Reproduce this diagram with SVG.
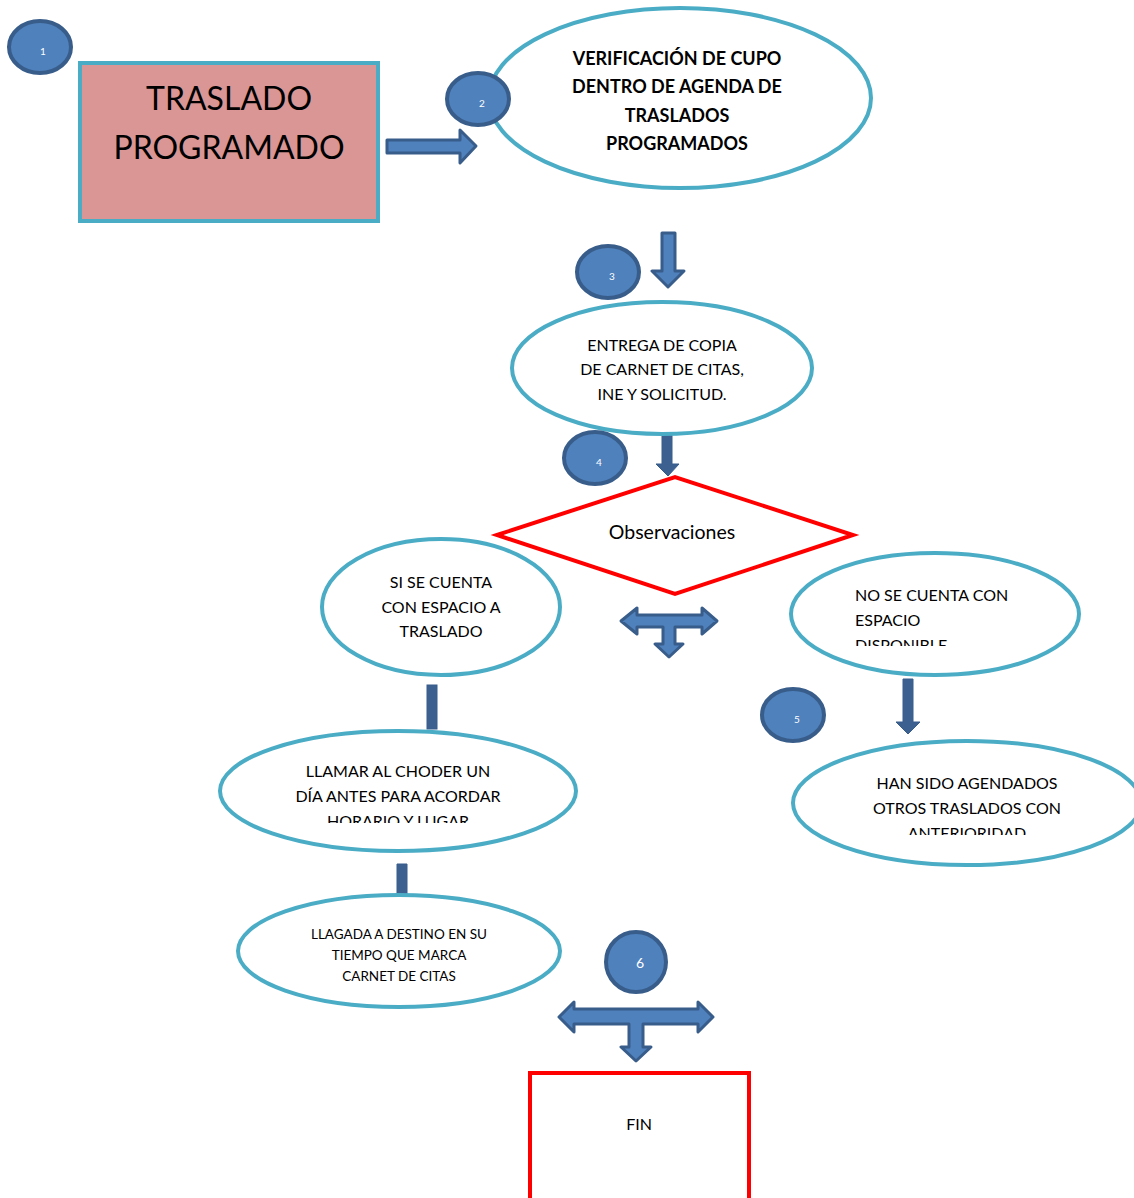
<svg xmlns="http://www.w3.org/2000/svg" width="1134" height="1198" viewBox="0 0 1134 1198">
<style>
text{font-family:Lato,"Open Sans","Liberation Sans",sans-serif;fill:#000;}
.ell{fill:#fff;stroke:#4bacc6;stroke-width:4;}
.num{fill:#4f81bd;stroke:#385d8a;stroke-width:4;}
.numt{fill:#fff;font-size:10px;text-anchor:middle;}
.blk{fill:#4f81bd;stroke:#385d8a;stroke-width:3;stroke-linejoin:round;}
.dark{fill:#3c6190;stroke:#385d8a;stroke-width:1;}
.t16{font-size:16px;text-anchor:middle;}
.red{fill:#fff;stroke:#ff0000;stroke-width:4;}
</style>
<defs>
<clipPath id="cNo"><rect x="780" y="560" width="300" height="86"/></clipPath>
<clipPath id="cHan"><rect x="790" y="745" width="344" height="90"/></clipPath>
<clipPath id="cLla"><rect x="215" y="740" width="370" height="83"/></clipPath>
</defs>
<rect width="1134" height="1198" fill="#fff"/>

<g id="connectors">
<path class="blk" d="M387,140 L460,140 L460,130 L476,146 L460,163 L460,153 L387,153 Z"/>
<path class="blk" d="M662,233 L675,233 L675,271 L684,271 L668,287 L652,271 L662,271 Z"/>
<path class="dark" d="M662,430 L672,430 L672,464 L679,464 L668,476 L656,464 L662,464 Z"/>
<path class="blk" d="M621,621 L637,608 L637,615 L702,615 L702,608 L717,621 L702,634 L702,627 L675,627 L675,644 L683,644 L669,657 L655,644 L663,644 L663,627 L637,627 L637,634 Z"/>
<rect class="dark" x="427" y="685" width="10" height="44"/>
<path class="dark" d="M903,679 L913,679 L913,722 L920,722 L908,734 L896,722 L903,722 Z"/>
<path class="dark" d="M397,864 L407,864 L407,896 L413,896 L402,907 L391,896 L397,896 Z"/>
<path class="blk" stroke-width="4" d="M559,1017 L574,1002 L574,1009 L698,1009 L698,1002 L713,1017 L698,1032 L698,1024 L643,1024 L643,1047 L651,1047 L636,1061 L621,1047 L629,1047 L629,1024 L574,1024 L574,1032 Z"/>
</g>

<g id="n1">
<rect x="80" y="63" width="298" height="158" fill="#d99694" stroke="#4bacc6" stroke-width="4"/>
<text x="229" y="110" font-size="32" text-anchor="middle">TRASLADO</text>
<text x="229" y="159" font-size="32" text-anchor="middle">PROGRAMADO</text>
</g>

<g id="n2">
<ellipse class="ell" cx="680" cy="98" rx="191" ry="90"/>
<text x="677" y="65" font-size="18" font-weight="bold" text-anchor="middle">VERIFICACIÓN DE CUPO</text>
<text x="677" y="93" font-size="18" font-weight="bold" text-anchor="middle">DENTRO DE AGENDA DE</text>
<text x="677" y="122" font-size="18" font-weight="bold" text-anchor="middle">TRASLADOS</text>
<text x="677" y="150" font-size="18" font-weight="bold" text-anchor="middle">PROGRAMADOS</text>
</g>

<g id="n3">
<ellipse class="ell" cx="662" cy="368" rx="150" ry="66"/>
<text class="t16" x="662" y="351">ENTREGA DE COPIA</text>
<text class="t16" x="662" y="375">DE CARNET DE CITAS,</text>
<text class="t16" x="662" y="400">INE Y SOLICITUD.</text>
</g>

<g id="n4">
<polygon class="red" points="497,535 675,477 853,535 675,594" stroke-linejoin="miter"/>
<text x="672" y="539" font-size="19.5" text-anchor="middle">Observaciones</text>
</g>

<g id="n5">
<ellipse class="ell" cx="441" cy="607" rx="119" ry="68"/>
<text class="t16" x="441" y="588">SI SE CUENTA</text>
<text class="t16" x="441" y="613">CON ESPACIO A</text>
<text class="t16" x="441" y="637">TRASLADO</text>
</g>

<g id="n6">
<ellipse class="ell" cx="935" cy="614" rx="144" ry="61"/>
<g clip-path="url(#cNo)">
<text x="855" y="601" font-size="16">NO SE CUENTA CON</text>
<text x="855" y="626" font-size="16">ESPACIO</text>
<text x="855" y="651" font-size="16">DISPONIBLE</text>
</g>
</g>

<g id="n7">
<ellipse class="ell" cx="967" cy="803" rx="174" ry="62"/>
<g clip-path="url(#cHan)">
<text class="t16" x="967" y="789">HAN SIDO AGENDADOS</text>
<text class="t16" x="967" y="814">OTROS TRASLADOS CON</text>
<text class="t16" x="967" y="839">ANTERIORIDAD</text>
</g>
</g>

<g id="n8">
<ellipse class="ell" cx="398" cy="791" rx="178" ry="60"/>
<g clip-path="url(#cLla)">
<text class="t16" x="398" y="777">LLAMAR AL CHODER UN</text>
<text class="t16" x="398" y="802">DÍA ANTES PARA ACORDAR</text>
<text class="t16" x="398" y="827">HORARIO Y LUGAR</text>
</g>
</g>

<g id="n9">
<ellipse class="ell" cx="399" cy="951" rx="161" ry="56"/>
<text x="399" y="939" font-size="13.5" text-anchor="middle">LLAGADA A DESTINO EN SU</text>
<text x="399" y="960" font-size="13.5" text-anchor="middle">TIEMPO QUE MARCA</text>
<text x="399" y="981" font-size="13.5" text-anchor="middle">CARNET DE CITAS</text>
</g>

<g id="n10">
<rect x="530" y="1073" width="219" height="140" class="red"/>
<text x="639" y="1130" font-size="16" text-anchor="middle">FIN</text>
</g>

<g id="badges">
<g id="b1"><ellipse class="num" cx="40" cy="47" rx="31" ry="26"/><text class="numt" x="43" y="55">1</text></g>
<g id="b2"><ellipse class="num" cx="478" cy="99" rx="31" ry="26"/><text class="numt" x="482" y="107">2</text></g>
<g id="b3"><ellipse class="num" cx="608" cy="272" rx="31" ry="26"/><text class="numt" x="612" y="280">3</text></g>
<g id="b4"><ellipse class="num" cx="595" cy="458" rx="31" ry="26"/><text class="numt" x="599" y="466">4</text></g>
<g id="b5"><ellipse class="num" cx="793" cy="715" rx="31" ry="26"/><text class="numt" x="797" y="723">5</text></g>
<g id="b6"><ellipse class="num" cx="636" cy="962" rx="30" ry="30"/><text x="640" y="968" font-size="14" text-anchor="middle" style="fill:#fff">6</text></g>
</g>
</svg>
